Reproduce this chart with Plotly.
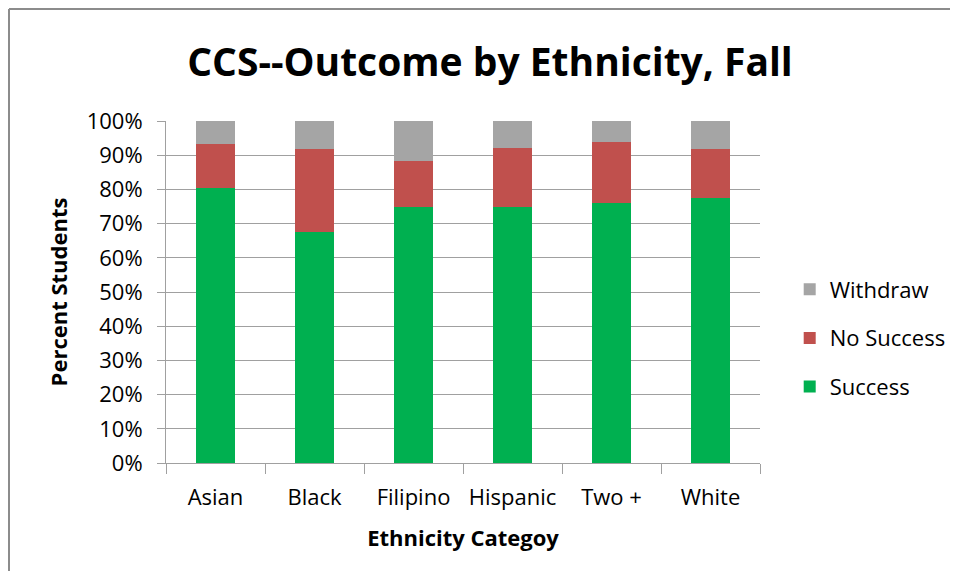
import plotly.graph_objects as go

categories = ["Asian", "Black", "Filipino", "Hispanic", "Two +", "White"]
success = [80.5, 67.6, 74.9, 74.9, 75.9, 77.5]
no_success = [12.9, 24.1, 13.5, 17.2, 18.0, 14.2]
withdraw = [6.6, 8.3, 11.6, 7.9, 6.1, 8.3]

font_family = "Open Sans, Noto Sans, sans-serif"

fig = go.Figure()
fig.add_trace(go.Bar(name="Success", x=categories, y=success, marker_color="#00B050",
                     marker_line_width=0, legendgroup="s", legendrank=3))
fig.add_trace(go.Bar(name="No Success", x=categories, y=no_success, marker_color="#C0504D",
                     marker_line_width=0, legendgroup="n", legendrank=2))
fig.add_trace(go.Bar(name="Withdraw", x=categories, y=withdraw, marker_color="#A5A5A5",
                     marker_line_width=0, legendgroup="w", legendrank=1))

# page body adds an 8px offset on every side; keep figure inside the viewport
OFF = 8
W, H = 958 - 2 * OFF, 579 - 2 * OFF
L, R, T, B = 166 - OFF, 760 - OFF, 121 - OFF, 463 - OFF
pw, ph = R - L, B - T

fig.update_layout(
    width=W, height=H,
    barmode="stack",
    bargap=0.61,
    margin=dict(l=L, r=W - R, t=T, b=H - B, autoexpand=False),
    plot_bgcolor="white", paper_bgcolor="white",
    font=dict(family=font_family, size=22, color="#000000"),
    title=dict(text="<b>CCS--Outcome by Ethnicity, Fall</b>", x=(490 - OFF - L) / pw, xref="paper",
               xanchor="center", y=1 - (62 - OFF) / H, yanchor="middle",
               font=dict(size=39, family=font_family)),
    legend=dict(traceorder="grouped", x=1.05, xanchor="left",
                y=(B - (338 - OFF)) / ph, yanchor="middle",
                font=dict(size=22), itemsizing="constant", tracegroupgap=17,
                itemwidth=30),
    showlegend=True,
)
fig.update_yaxes(range=[0, 100], tickvals=list(range(0, 101, 10)),
                 ticktext=[f"{v}%" for v in range(0, 101, 10)],
                 showgrid=True, gridcolor="#A0A0A0", gridwidth=1,
                 showline=True, linecolor="#A0A0A0", linewidth=1,
                 ticks="outside", ticklen=8, tickcolor="#A0A0A0",
                 ticklabelstandoff=10,
                 title=dict(text="<b>Percent Students</b>", font=dict(size=22), standoff=12),
                 zeroline=False)
fig.update_xaxes(showline=True, linecolor="#A0A0A0", linewidth=1,
                 ticks="outside", tickson="boundaries", ticklen=10, tickcolor="#A0A0A0",
                 ticklabelstandoff=15,
                 title=dict(text="<b>Ethnicity Categoy</b>", font=dict(size=22), standoff=20))

# outer chart frame: left and top edges only
frame = dict(color="#8C8C8C", width=2)
fig.add_shape(type="line", xref="paper", yref="paper",
              x0=(1 - L) / pw, x1=(1 - L) / pw, y0=(B - 620) / ph, y1=(B - 1) / ph,
              line=frame, layer="below")
fig.add_shape(type="line", xref="paper", yref="paper",
              x0=(1 - L) / pw, x1=(W - L) / pw, y0=(B - 1) / ph, y1=(B - 1) / ph,
              line=frame, layer="below")

fig.write_html("out.html")
